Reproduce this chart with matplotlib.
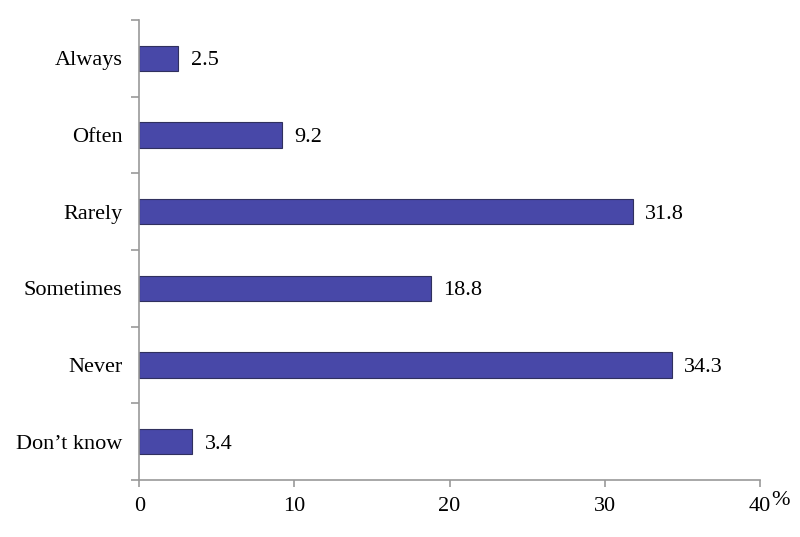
import numpy as np
import matplotlib.pyplot as plt
from matplotlib.ticker import FixedLocator

plt.rcParams['font.family'] = ['Liberation Serif', 'DejaVu Serif']

categories = ['Always', 'Often', 'Rarely', 'Sometimes', 'Never', 'Don\u2019t know']
values = [2.5, 9.2, 31.8, 18.8, 34.3, 3.4]
xticks = [0, 10, 20, 30, 40]

fig = plt.figure(figsize=(8, 5.37), dpi=100)
ax = fig.add_axes([0.174, 0.106, 0.776, 0.857])

pos = np.arange(len(categories))[::-1]
ax.barh(pos, values, height=0.33, color='#4848A8', edgecolor='#30305E', linewidth=0.8)

for p, v in zip(pos, values):
    ax.annotate(f'{v:.1f}', (v, p), xytext=(9, 0), textcoords='offset points',
                va='center_baseline', ha='left', fontsize=16)

ax.set_xlim(0, 40)
ax.set_ylim(-0.5, len(categories) - 0.5)
ax.set_xticks(xticks)
ax.set_yticks(pos)
ax.set_yticklabels(categories)
ax.yaxis.set_minor_locator(FixedLocator(np.arange(-0.5, len(categories), 1.0)))

ax.tick_params(axis='y', which='major', length=0, pad=12, labelsize=16)
ax.tick_params(axis='y', which='minor', length=6, width=1.2, color='#999999', direction='out')
ax.tick_params(axis='x', length=5, width=1.2, color='#999999', direction='out', pad=7, labelsize=16)

for s in ['top', 'right']:
    ax.spines[s].set_visible(False)
for s in ['left', 'bottom']:
    ax.spines[s].set_color('#999999')
    ax.spines[s].set_linewidth(1.2)

ax.text(1.033, -0.045, '%', transform=ax.transAxes, fontsize=16, ha='center', va='center')

plt.savefig('out.png', dpi=100)
